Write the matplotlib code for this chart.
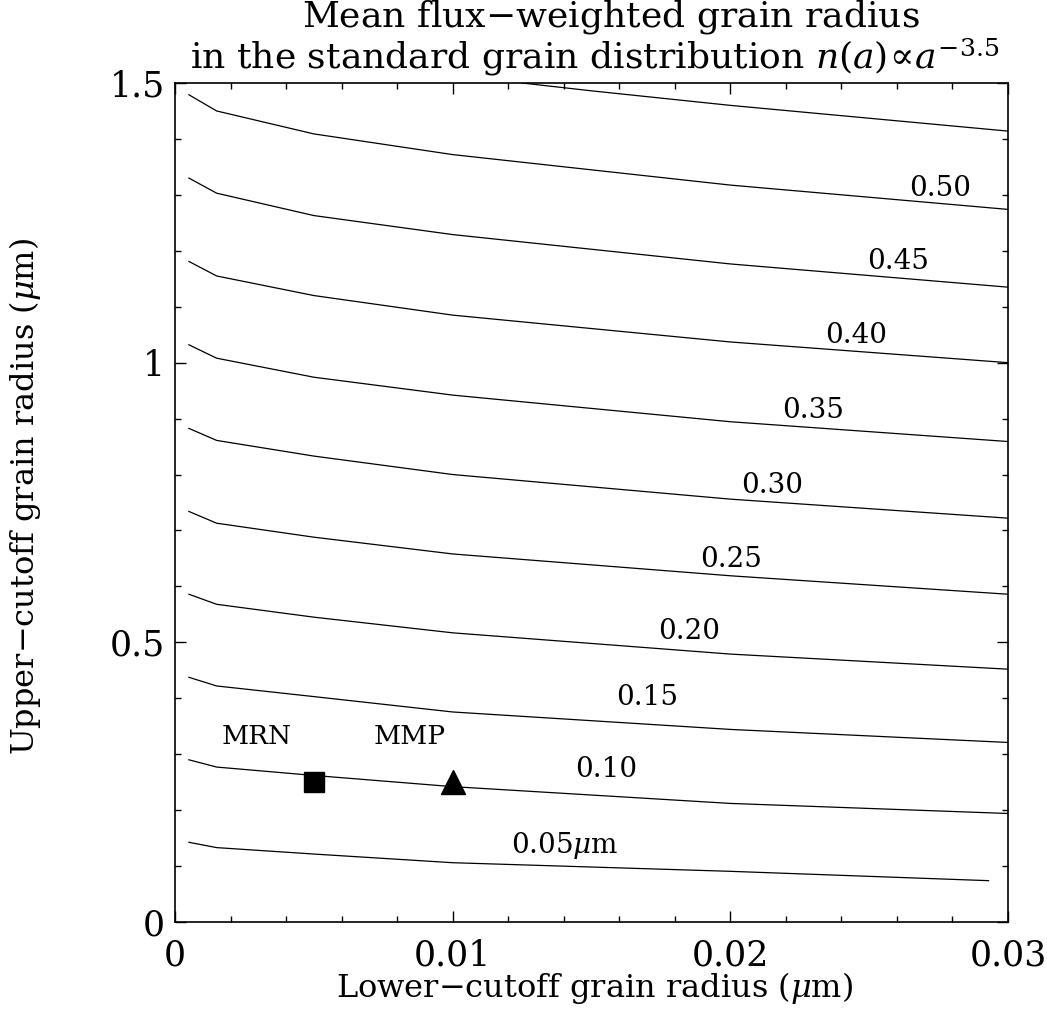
import matplotlib
matplotlib.use("Agg")
import matplotlib.pyplot as plt
from matplotlib.ticker import MultipleLocator

# ---- data ----
x_nodes = [0.0005, 0.0015, 0.005, 0.010, 0.020, 0.030]
levels = ["0.05", "0.10", "0.15", "0.20", "0.25", "0.30", "0.35", "0.40", "0.45", "0.50"]
y_005 = [0.1425, 0.133, 0.1215, 0.106, 0.0906, 0.0739]
y_010 = [0.290, 0.277, 0.262, 0.242, 0.212, 0.194]
y_015 = [0.4375, 0.422, 0.403, 0.3755, 0.3443, 0.321]
y_020 = [0.586, 0.568, 0.545, 0.517, 0.479, 0.452]
y_025 = [0.734, 0.713, 0.688, 0.658, 0.619, 0.586]
y_030 = [0.8825, 0.861, 0.833, 0.800, 0.756, 0.722]
y_035 = [1.032, 1.008, 0.974, 0.942, 0.8944, 0.859]
y_040 = [1.181, 1.155, 1.120, 1.085, 1.037, 1.000]
y_045 = [1.330, 1.303, 1.263, 1.229, 1.1765, 1.135]
y_050 = [1.479, 1.450, 1.409, 1.372, 1.3175, 1.274]
# the 0.05 contour stops a bit before the right edge
x_005 = [0.0005, 0.0015, 0.005, 0.010, 0.020, 0.0293]
# top (unlabelled, 0.55) contour enters through the top edge
x_055 = [0.0125, 0.015, 0.020, 0.025, 0.030]
y_055 = [1.500, 1.486, 1.460, 1.437, 1.414]

label_x = [0.01405, 0.01552, 0.01700, 0.01851, 0.02002, 0.02150, 0.02298, 0.02453, 0.02604, 0.02755]
label_y = [0.1376, 0.272, 0.401, 0.519, 0.648, 0.780, 0.914, 1.049, 1.180, 1.312]
label_txt = ["0.05$\\mu$m", "0.10", "0.15", "0.20", "0.25", "0.30", "0.35", "0.40", "0.45", "0.50"]

models = ["MRN", "MMP"]
model_x = [0.005, 0.010]
model_y = [0.25, 0.25]
model_marker = ["s", "^"]
model_label_x = [0.00295, 0.00846]
model_label_y = [0.332, 0.332]

plt.rcParams["font.family"] = "DejaVu Serif"
plt.rcParams["mathtext.fontset"] = "dejavuserif"

W, H = 1047, 1009
fig = plt.figure(figsize=(W / 100, H / 100), dpi=100)
ax = fig.add_axes([175 / W, 1 - 922 / H, (1008 - 175) / W, (922 - 83) / H])

lw = 0.9
series = [y_005, y_010, y_015, y_020, y_025, y_030, y_035, y_040, y_045, y_050]
for i, ys in enumerate(series):
    xs = x_005 if i == 0 else x_nodes
    ax.plot(xs, ys, color="black", lw=lw)
ax.plot(x_055, y_055, color="black", lw=lw)

for tx, ty, t in zip(label_x, label_y, label_txt):
    ax.text(tx, ty, t, ha="center", va="center", fontsize=20)

for mx, my, mk in zip(model_x, model_y, model_marker):
    ax.plot(mx, my, marker=mk, color="black", markersize=15 if mk == "s" else 17,
            linestyle="none", zorder=5)
for t, tx, ty in zip(models, model_label_x, model_label_y):
    ax.text(tx, ty, t, ha="center", va="center", fontsize=19)

ax.set_xlim(0, 0.03)
ax.set_ylim(0, 1.5)
ax.xaxis.set_minor_locator(MultipleLocator(0.002))
ax.yaxis.set_minor_locator(MultipleLocator(0.1))
ax.set_xticks([0, 0.01, 0.02, 0.03])
ax.set_xticklabels(["0", "0.01", "0.02", "0.03"])
ax.set_yticks([0, 0.5, 1.0, 1.5])
ax.set_yticklabels(["0", "0.5", "1", "1.5"])
ax.tick_params(which="both", direction="in", top=True, right=True, labelsize=25, width=1.0)
ax.tick_params(which="major", length=8)
ax.tick_params(which="minor", length=4.5)
ax.tick_params(axis="x", which="major", pad=12)
ax.tick_params(axis="y", which="major", pad=7)
for s in ax.spines.values():
    s.set_linewidth(1.2)

fig.text(595 / W, 1 - 988 / H, "Lower$-$cutoff grain radius ($\\mu$m)",
         ha="center", va="center", fontsize=23)
fig.text(25 / W, 1 - 496 / H, "Upper$-$cutoff grain radius ($\\mu$m)",
         ha="center", va="center", rotation=90, fontsize=23)
fig.text(611 / W, 1 - 17 / H, "Mean flux$-$weighted grain radius",
         ha="center", va="center", fontsize=26)
fig.text(595 / W, 1 - 57 / H, "in the standard grain distribution $n(a)\\!\\propto\\! a^{-3.5}$",
         ha="center", va="center", fontsize=26)

fig.savefig("out.png", dpi=100)
